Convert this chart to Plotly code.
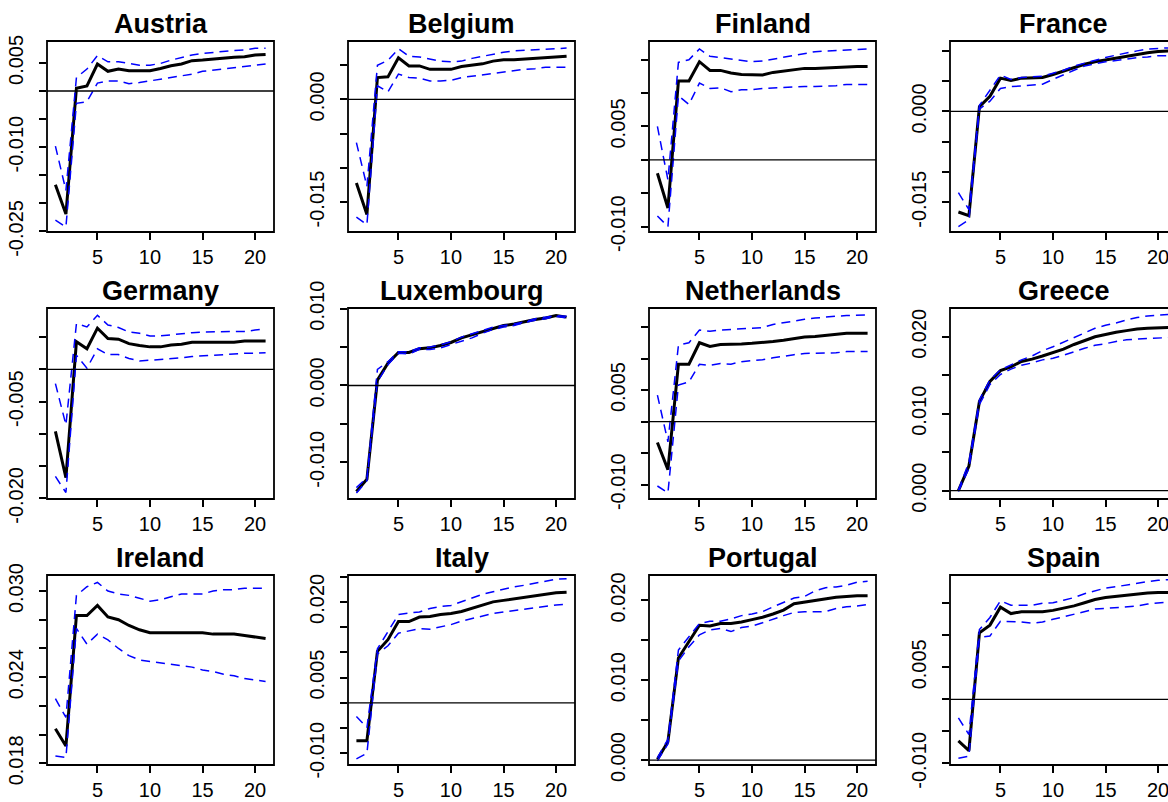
import plotly.graph_objects as go

# Horizon (periods after the shock)
steps = list(range(1, 22))

countries = ["Austria", "Belgium", "Finland", "France",
             "Germany", "Luxembourg", "Netherlands", "Greece",
             "Ireland", "Italy", "Portugal", "Spain"]

# Point response and lower / upper bands for each country
austria_irf = [-0.0167, -0.0219, 0.0005, 0.0009, 0.0048, 0.0035, 0.0039, 0.0036, 0.0036, 0.0036, 0.0040,
               0.0045, 0.0048, 0.0054, 0.0055, 0.0057, 0.0059, 0.0060, 0.0061, 0.0064, 0.0065]
austria_lo = [-0.0230, -0.0242, -0.0022, -0.0019, 0.0014, 0.0018, 0.0018, 0.0013, 0.0015, 0.0018, 0.0022,
              0.0024, 0.0027, 0.0030, 0.0035, 0.0037, 0.0040, 0.0042, 0.0043, 0.0045, 0.0048]
austria_hi = [-0.0098, -0.0177, 0.0024, 0.0039, 0.0063, 0.0052, 0.0052, 0.0049, 0.0046, 0.0046, 0.0049,
              0.0055, 0.0060, 0.0064, 0.0067, 0.0069, 0.0070, 0.0072, 0.0073, 0.0076, 0.0076]

belgium_irf = [-0.0122, -0.0168, 0.0032, 0.0033, 0.0061, 0.0049, 0.0049, 0.0044, 0.0044, 0.0044, 0.0048,
               0.0050, 0.0052, 0.0056, 0.0058, 0.0058, 0.0059, 0.0061, 0.0061, 0.0062, 0.0063]
belgium_lo = [-0.0172, -0.0183, 0.0020, 0.0011, 0.0037, 0.0032, 0.0031, 0.0027, 0.0027, 0.0028, 0.0032,
              0.0034, 0.0037, 0.0039, 0.0041, 0.0043, 0.0044, 0.0045, 0.0047, 0.0047, 0.0047]
belgium_hi = [-0.0063, -0.0127, 0.0050, 0.0057, 0.0074, 0.0063, 0.0062, 0.0059, 0.0056, 0.0055, 0.0056,
              0.0060, 0.0063, 0.0067, 0.0069, 0.0071, 0.0072, 0.0073, 0.0074, 0.0075, 0.0075]

finland_irf = [-0.0020, -0.0072, 0.0118, 0.0118, 0.0147, 0.0134, 0.0134, 0.0130, 0.0128, 0.0127, 0.0127,
               0.0131, 0.0133, 0.0136, 0.0137, 0.0137, 0.0138, 0.0138, 0.0140, 0.0140, 0.0140]
finland_lo = [-0.0084, -0.0100, 0.0096, 0.0083, 0.0115, 0.0107, 0.0108, 0.0102, 0.0105, 0.0105, 0.0107,
              0.0108, 0.0108, 0.0110, 0.0110, 0.0110, 0.0110, 0.0111, 0.0113, 0.0113, 0.0113]
finland_hi = [0.0050, -0.0030, 0.0146, 0.0150, 0.0166, 0.0155, 0.0153, 0.0151, 0.0148, 0.0147, 0.0148,
              0.0151, 0.0154, 0.0157, 0.0159, 0.0162, 0.0163, 0.0164, 0.0165, 0.0166, 0.0166]

france_irf = [-0.0166, -0.0172, 0.0008, 0.0025, 0.0055, 0.0051, 0.0055, 0.0056, 0.0056, 0.0061, 0.0067,
              0.0072, 0.0078, 0.0082, 0.0085, 0.0089, 0.0092, 0.0094, 0.0097, 0.0099, 0.0100]
france_lo = [-0.0190, -0.0179, 0.0004, 0.0017, 0.0038, 0.0041, 0.0042, 0.0043, 0.0045, 0.0053, 0.0061,
             0.0068, 0.0075, 0.0079, 0.0082, 0.0084, 0.0087, 0.0089, 0.0090, 0.0092, 0.0092]
france_hi = [-0.0134, -0.0162, 0.0010, 0.0036, 0.0060, 0.0053, 0.0056, 0.0057, 0.0058, 0.0063, 0.0068,
             0.0075, 0.0080, 0.0085, 0.0089, 0.0093, 0.0097, 0.0100, 0.0103, 0.0104, 0.0105]

germany_irf = [-0.0096, -0.0168, 0.0043, 0.0032, 0.0064, 0.0048, 0.0047, 0.0040, 0.0037, 0.0035, 0.0035,
               0.0038, 0.0039, 0.0042, 0.0042, 0.0042, 0.0042, 0.0042, 0.0044, 0.0044, 0.0044]
germany_lo = [-0.0166, -0.0191, 0.0022, 0.0002, 0.0032, 0.0023, 0.0023, 0.0017, 0.0013, 0.0014, 0.0016,
              0.0017, 0.0018, 0.0020, 0.0021, 0.0023, 0.0023, 0.0025, 0.0025, 0.0025, 0.0026]
germany_hi = [-0.0022, -0.0086, 0.0071, 0.0066, 0.0084, 0.0069, 0.0065, 0.0058, 0.0056, 0.0052, 0.0052,
              0.0054, 0.0056, 0.0057, 0.0058, 0.0058, 0.0058, 0.0058, 0.0059, 0.0061, 0.0063]

luxembourg_irf = [-0.0138, -0.0122, 0.0007, 0.0029, 0.0043, 0.0043, 0.0048, 0.0049, 0.0052, 0.0056, 0.0062,
                  0.0066, 0.0071, 0.0075, 0.0078, 0.0080, 0.0083, 0.0086, 0.0088, 0.0091, 0.0089]
luxembourg_lo = [-0.0140, -0.0124, 0.0005, 0.0027, 0.0042, 0.0041, 0.0047, 0.0047, 0.0049, 0.0053, 0.0057,
                 0.0062, 0.0068, 0.0073, 0.0076, 0.0078, 0.0082, 0.0085, 0.0087, 0.0090, 0.0088]
luxembourg_hi = [-0.0133, -0.0120, 0.0021, 0.0031, 0.0044, 0.0044, 0.0049, 0.0050, 0.0053, 0.0057, 0.0063,
                 0.0067, 0.0071, 0.0076, 0.0078, 0.0080, 0.0083, 0.0087, 0.0089, 0.0091, 0.0090]

netherlands_irf = [-0.0033, -0.0076, 0.0091, 0.0091, 0.0125, 0.0119, 0.0122, 0.0122, 0.0123, 0.0124, 0.0125,
                   0.0127, 0.0129, 0.0132, 0.0134, 0.0135, 0.0137, 0.0139, 0.0140, 0.0140, 0.0140]
netherlands_lo = [-0.0102, -0.0113, 0.0058, 0.0063, 0.0091, 0.0089, 0.0092, 0.0091, 0.0095, 0.0096, 0.0098,
                  0.0101, 0.0104, 0.0106, 0.0108, 0.0108, 0.0108, 0.0109, 0.0111, 0.0111, 0.0111]
netherlands_hi = [0.0042, -0.0032, 0.0121, 0.0125, 0.0145, 0.0143, 0.0145, 0.0146, 0.0147, 0.0148, 0.0149,
                  0.0154, 0.0157, 0.0159, 0.0162, 0.0164, 0.0166, 0.0167, 0.0168, 0.0169, 0.0169]

greece_irf = [0.0000, 0.0032, 0.0116, 0.0142, 0.0156, 0.0161, 0.0168, 0.0171, 0.0175, 0.0179, 0.0184,
              0.0190, 0.0195, 0.0200, 0.0203, 0.0206, 0.0208, 0.0210, 0.0211, 0.0212, 0.0212]
greece_lo = [-0.0001, 0.0029, 0.0112, 0.0138, 0.0151, 0.0158, 0.0163, 0.0166, 0.0170, 0.0172, 0.0176,
             0.0181, 0.0185, 0.0189, 0.0191, 0.0194, 0.0196, 0.0197, 0.0198, 0.0199, 0.0199]
greece_hi = [0.0001, 0.0037, 0.0118, 0.0144, 0.0157, 0.0164, 0.0170, 0.0175, 0.0182, 0.0187, 0.0193,
             0.0199, 0.0204, 0.0211, 0.0215, 0.0218, 0.0222, 0.0225, 0.0227, 0.0228, 0.0229]

ireland_irf = [0.0204, 0.0192, 0.0283, 0.0283, 0.0290, 0.0282, 0.0280, 0.0276, 0.0273, 0.0271, 0.0271,
               0.0271, 0.0271, 0.0271, 0.0271, 0.0270, 0.0270, 0.0270, 0.0269, 0.0268, 0.0267]
ireland_lo = [0.0185, 0.0184, 0.0274, 0.0263, 0.0270, 0.0266, 0.0260, 0.0255, 0.0252, 0.0251, 0.0250,
              0.0249, 0.0248, 0.0247, 0.0245, 0.0244, 0.0242, 0.0241, 0.0239, 0.0238, 0.0237]
ireland_hi = [0.0225, 0.0212, 0.0297, 0.0303, 0.0306, 0.0300, 0.0298, 0.0297, 0.0295, 0.0293, 0.0294,
              0.0296, 0.0298, 0.0298, 0.0298, 0.0300, 0.0301, 0.0301, 0.0302, 0.0302, 0.0302]

italy_irf = [-0.0075, -0.0075, 0.0102, 0.0125, 0.0161, 0.0161, 0.0170, 0.0171, 0.0175, 0.0177, 0.0181,
             0.0187, 0.0193, 0.0200, 0.0203, 0.0206, 0.0209, 0.0212, 0.0215, 0.0218, 0.0219]
italy_lo = [-0.0111, -0.0100, 0.0097, 0.0113, 0.0138, 0.0143, 0.0147, 0.0146, 0.0151, 0.0155, 0.0162,
            0.0167, 0.0171, 0.0177, 0.0180, 0.0183, 0.0186, 0.0189, 0.0191, 0.0194, 0.0195]
italy_hi = [-0.0027, -0.0049, 0.0107, 0.0140, 0.0175, 0.0178, 0.0180, 0.0187, 0.0191, 0.0193, 0.0200,
            0.0207, 0.0215, 0.0220, 0.0225, 0.0230, 0.0233, 0.0237, 0.0240, 0.0245, 0.0246]

portugal_irf = [0.0001, 0.0023, 0.0128, 0.0149, 0.0169, 0.0168, 0.0171, 0.0171, 0.0173, 0.0176, 0.0179,
                0.0183, 0.0188, 0.0196, 0.0198, 0.0200, 0.0202, 0.0204, 0.0205, 0.0206, 0.0206]
portugal_lo = [-0.0001, 0.0020, 0.0124, 0.0142, 0.0157, 0.0163, 0.0165, 0.0161, 0.0166, 0.0168, 0.0172,
               0.0177, 0.0181, 0.0185, 0.0186, 0.0186, 0.0186, 0.0190, 0.0192, 0.0193, 0.0195]
portugal_hi = [0.0003, 0.0026, 0.0138, 0.0154, 0.0171, 0.0174, 0.0174, 0.0177, 0.0181, 0.0183, 0.0186,
               0.0192, 0.0198, 0.0203, 0.0205, 0.0212, 0.0216, 0.0217, 0.0219, 0.0223, 0.0224]

spain_irf = [-0.0065, -0.0080, 0.0104, 0.0116, 0.0144, 0.0134, 0.0137, 0.0137, 0.0137, 0.0139, 0.0142,
             0.0146, 0.0151, 0.0156, 0.0159, 0.0161, 0.0162, 0.0164, 0.0166, 0.0167, 0.0167]
spain_lo = [-0.0092, -0.0089, 0.0097, 0.0099, 0.0122, 0.0122, 0.0121, 0.0119, 0.0121, 0.0125, 0.0129,
            0.0133, 0.0137, 0.0141, 0.0142, 0.0143, 0.0144, 0.0146, 0.0149, 0.0151, 0.0152]
spain_hi = [-0.0029, -0.0055, 0.0109, 0.0128, 0.0154, 0.0147, 0.0147, 0.0147, 0.0150, 0.0151, 0.0155,
            0.0159, 0.0165, 0.0170, 0.0174, 0.0176, 0.0179, 0.0181, 0.0184, 0.0186, 0.0187]

series = {
    "Austria": (austria_irf, austria_lo, austria_hi),
    "Belgium": (belgium_irf, belgium_lo, belgium_hi),
    "Finland": (finland_irf, finland_lo, finland_hi),
    "France": (france_irf, france_lo, france_hi),
    "Germany": (germany_irf, germany_lo, germany_hi),
    "Luxembourg": (luxembourg_irf, luxembourg_lo, luxembourg_hi),
    "Netherlands": (netherlands_irf, netherlands_lo, netherlands_hi),
    "Greece": (greece_irf, greece_lo, greece_hi),
    "Ireland": (ireland_irf, ireland_lo, ireland_hi),
    "Italy": (italy_irf, italy_lo, italy_hi),
    "Portugal": (portugal_irf, portugal_lo, portugal_hi),
    "Spain": (spain_irf, spain_lo, spain_hi),
}

# y-axis tick values and the subset that carries a printed label
y_ticks = {
    "Austria": ([-0.025, -0.020, -0.015, -0.010, -0.005, 0.0, 0.005], [0.005, -0.010, -0.025]),
    "Belgium": ([-0.015, -0.010, -0.005, 0.0, 0.005], [0.0, -0.015]),
    "Finland": ([-0.010, -0.005, 0.0, 0.005, 0.010, 0.015], [0.005, -0.010]),
    "France": ([-0.015, -0.010, -0.005, 0.0, 0.005, 0.010], [0.0, -0.015]),
    "Germany": ([-0.020, -0.015, -0.010, -0.005, 0.0, 0.005], [-0.005, -0.020]),
    "Luxembourg": ([-0.010, -0.005, 0.0, 0.005, 0.010], [0.010, 0.0, -0.010]),
    "Netherlands": ([-0.010, -0.005, 0.0, 0.005, 0.010, 0.015], [0.005, -0.010]),
    "Greece": ([0.0, 0.005, 0.010, 0.015, 0.020], [0.020, 0.010, 0.0]),
    "Ireland": ([0.018, 0.020, 0.022, 0.024, 0.026, 0.028, 0.030], [0.030, 0.024, 0.018]),
    "Italy": ([-0.010, -0.005, 0.0, 0.005, 0.010, 0.015, 0.020, 0.025], [0.020, 0.005, -0.010]),
    "Portugal": ([0.0, 0.005, 0.010, 0.015, 0.020], [0.020, 0.010, 0.0]),
    "Spain": ([-0.010, -0.005, 0.0, 0.005, 0.010, 0.015], [0.005, -0.010]),
}
x_ticks = [5, 10, 15, 20]

# Axis limits of each panel
y_limits = {
    "Austria": (-0.0251, 0.0089),
    "Belgium": (-0.01937, 0.00854),
    "Finland": (-0.0108, 0.0178),
    "France": (-0.0199, 0.01163),
    "Germany": (-0.0201, 0.00953),
    "Luxembourg": (-0.01478, 0.01009),
    "Netherlands": (-0.01226, 0.0180),
    "Greece": (-0.00108, 0.02374),
    "Ireland": (0.01788, 0.03112),
    "Italy": (-0.01233, 0.02533),
    "Portugal": (-0.00062, 0.02319),
    "Spain": (-0.01026, 0.01943),
}
X_LO, X_HI = 0.2, 21.8

# ---- page geometry (pixels) ----
W, H = 1168, 802
col_px = [(47, 274), (348, 575), (649, 876), (950, 1177)]
row_px = [(41, 232), (308, 499), (575, 765)]

FONT = "Liberation Sans, Arial, sans-serif"
TICK_FONT = dict(family=FONT, size=20, color="black")


def fmt(v):
    s = f"{v:.3f}"
    return "0.000" if s == "-0.000" else s


fig = go.Figure()
shapes, annotations = [], []
layout_axes = {}

for i, name in enumerate(countries):
    r, c = divmod(i, 4)
    left, right = col_px[c]
    top, bottom = row_px[r]
    vis_right = min(right, W)
    x_hi = X_LO + (vis_right - left) / (right - left) * (X_HI - X_LO)

    n = "" if i == 0 else str(i + 1)
    xa, ya = "x" + n, "y" + n

    irf, lo, hi = series[name]
    fig.add_trace(go.Scatter(x=steps, y=irf, mode="lines", xaxis=xa, yaxis=ya,
                             line=dict(color="black", width=3), showlegend=False,
                             hoverinfo="skip"))
    for band in (hi, lo):
        fig.add_trace(go.Scatter(x=steps, y=band, mode="lines", xaxis=xa, yaxis=ya,
                                 line=dict(color="#0000FF", width=1.5, dash="9px,6px"),
                                 showlegend=False, hoverinfo="skip"))

    tv, labelled = y_ticks[name]
    tt = [fmt(v) if any(abs(v - l) < 1e-9 for l in labelled) else "" for v in tv]

    layout_axes["xaxis" + n] = dict(
        domain=[left / W, vis_right / W], range=[X_LO, x_hi], anchor=ya,
        tickmode="array", tickvals=x_ticks, ticktext=[str(t) for t in x_ticks],
        ticks="outside", ticklen=7, tickwidth=1.8, tickcolor="black",
        showgrid=False, zeroline=False, showline=False, tickangle=0,
        tickfont=TICK_FONT, ticklabelstandoff=0, automargin=False,
        ticklabeloverflow="allow",
    )
    layout_axes["yaxis" + n] = dict(
        domain=[1 - bottom / H, 1 - top / H], range=list(y_limits[name]), anchor=xa,
        tickmode="array", tickvals=tv, ticktext=tt, tickangle=-90,
        ticks="outside", ticklen=7, tickwidth=1.8, tickcolor="black",
        showgrid=False, zeroline=False, showline=False,
        tickfont=TICK_FONT, ticklabelstandoff=8, automargin=False,
        ticklabeloverflow="allow",
    )

    # frame around the plotting region
    shapes.append(dict(type="rect", xref=xa + " domain", yref=ya + " domain",
                       x0=0, x1=(right - left) / (vis_right - left), y0=0, y1=1,
                       line=dict(color="black", width=1.8), layer="above"))
    # horizontal reference line at zero
    y0, y1 = y_limits[name]
    if y0 < 0 < y1:
        shapes.append(dict(type="line", xref=xa, yref=ya, x0=X_LO, x1=X_HI, y0=0, y1=0,
                           line=dict(color="black", width=1.3), layer="above"))

    annotations.append(dict(text="<b>" + name + "</b>", xref="paper", yref="paper",
                            x=(left + right) / 2 / W, y=1 - (top - 17) / H,
                            xanchor="center", yanchor="middle", showarrow=False,
                            font=dict(family=FONT, size=27, color="black")))

fig.update_layout(
    template="none",
    width=W, height=H, autosize=False,
    margin=dict(l=0, r=0, t=0, b=0, pad=0),
    paper_bgcolor="white", plot_bgcolor="white",
    showlegend=False,
    shapes=shapes, annotations=annotations,
    **layout_axes,
)

fig.write_html("out.html")
